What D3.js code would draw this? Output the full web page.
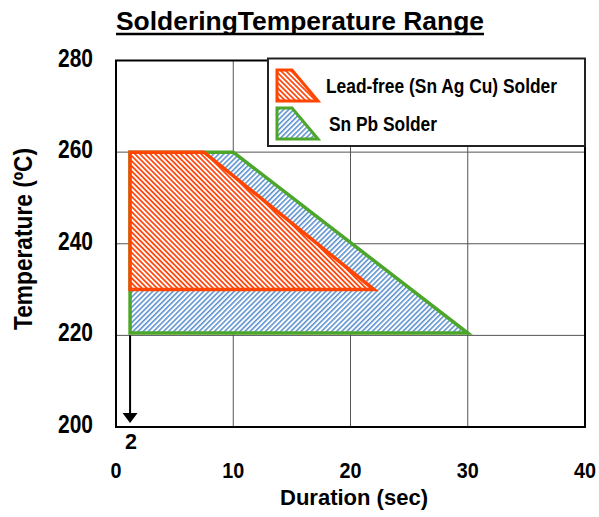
<!DOCTYPE html>
<html>
<head>
<meta charset="utf-8">
<script src="https://cdn.jsdelivr.net/npm/d3@7"></script>
<style>
body { margin: 0; background: #fff; }
text { font-family: "Liberation Sans", Arial, sans-serif; font-weight: bold; fill: #000; }
</style>
</head>
<body>
<svg id="chart" width="599" height="517"></svg>
<script>
// values
var xTicks = [0, 10, 20, 30, 40];
var yTicks = [200, 220, 240, 260, 280];
var snPbDur = [1.2, 1.2, 10, 30];
var snPbTemp = [220.5, 260, 260, 220.5];
var leadFreeDur = [1.2, 1.2, 7.5, 22];
var leadFreeTemp = [230, 260, 260, 230];
var minDur = 1.2;          // arrow down to the axis, labelled "2"
var minDurLabel = '2';
var legendNames = ['Lead-free (Sn Ag Cu) Solder', 'Sn Pb Solder'];

var svg = d3.select('#chart');
var x = d3.scaleLinear().domain([0, 40]).range([116, 585]);
var y = d3.scaleLinear().domain([200, 280]).range([427, 60.5]);

var defs = svg.append('defs');
function stripes(id, color, angle, period, w) {
	var p = defs.append('pattern')
		.attr('id', id)
		.attr('patternUnits', 'userSpaceOnUse')
		.attr('width', period)
		.attr('height', period)
		.attr('patternTransform', 'rotate(' + angle + ')');
	p.append('rect').attr('width', period).attr('height', period).attr('fill', '#fff');
	p.append('rect').attr('width', w).attr('height', period).attr('fill', color);
}
stripes('redHatch', '#ff4a12', -45, 3.6, 1.8);
stripes('blueHatch', '#5f93cf', 45, 3.6, 1.6);

// gridlines
svg.append('g').selectAll('line')
	.data(xTicks.slice(1, -1))
	.enter().append('line')
	.attr('x1', d => x(d)).attr('x2', d => x(d))
	.attr('y1', y(280)).attr('y2', y(200))
	.attr('stroke', '#555').attr('stroke-width', 1);
svg.append('g').selectAll('line')
	.data(yTicks.slice(1, -1))
	.enter().append('line')
	.attr('x1', x(0)).attr('x2', x(40))
	.attr('y1', d => y(d)).attr('y2', d => y(d))
	.attr('stroke', '#555').attr('stroke-width', 1);

// regions
var line = d3.line().x(d => x(d[0])).y(d => y(d[1]));
var snPb = d3.zip(snPbDur, snPbTemp);
var leadFree = d3.zip(leadFreeDur, leadFreeTemp);
svg.append('path')
	.attr('d', line(snPb) + 'Z')
	.attr('fill', 'url(#blueHatch)')
	.attr('stroke', '#4ca62a').attr('stroke-width', 3.5)
	.attr('stroke-linejoin', 'miter');
svg.append('path')
	.attr('d', line(leadFree) + 'Z')
	.attr('fill', 'url(#redHatch)')
	.attr('stroke', '#ff4500').attr('stroke-width', 3.5)
	.attr('stroke-linejoin', 'miter');

// frame
svg.append('rect')
	.attr('x', x(0)).attr('y', y(280))
	.attr('width', x(40) - x(0)).attr('height', y(200) - y(280))
	.attr('fill', 'none').attr('stroke', '#000').attr('stroke-width', 2);

// arrow to the minimum duration
var ax = x(minDur);
svg.append('line')
	.attr('x1', ax).attr('x2', ax)
	.attr('y1', y(220)).attr('y2', 414)
	.attr('stroke', '#000').attr('stroke-width', 2);
svg.append('path')
	.attr('d', 'M' + (ax - 7.5) + ',413L' + (ax + 7.5) + ',413L' + ax + ',423Z')
	.attr('fill', '#000');
svg.append('text')
	.attr('x', ax + 1).attr('y', 449)
	.attr('text-anchor', 'middle')
	.attr('textLength', 12)
	.attr('lengthAdjust', 'spacingAndGlyphs')
	.style('font-size', '22px')
	.text(minDurLabel);

// axis labels
svg.append('g').selectAll('text')
	.data(xTicks)
	.enter().append('text')
	.attr('x', d => x(d)).attr('y', 478)
	.attr('text-anchor', 'middle')
	.attr('textLength', d => String(d).length * 11)
	.attr('lengthAdjust', 'spacingAndGlyphs')
	.style('font-size', '22px')
	.text(d => d);
svg.append('g').selectAll('text')
	.data(yTicks)
	.enter().append('text')
	.attr('x', 93).attr('y', d => y(d) + 6)
	.attr('text-anchor', 'end')
	.attr('textLength', 35)
	.attr('lengthAdjust', 'spacingAndGlyphs')
	.style('font-size', '25px')
	.text(d => d);

svg.append('text')
	.attr('x', 354).attr('y', 505)
	.attr('text-anchor', 'middle')
	.attr('textLength', 148)
	.attr('lengthAdjust', 'spacingAndGlyphs')
	.style('font-size', '22px')
	.text('Duration (sec)');
svg.append('text')
	.attr('transform', 'translate(32,239) rotate(-90)')
	.attr('text-anchor', 'middle')
	.attr('textLength', 182)
	.attr('lengthAdjust', 'spacingAndGlyphs')
	.style('font-size', '25px')
	.text('Temperature (ºC)');

// title
svg.append('text')
	.attr('x', 300).attr('y', 30)
	.attr('text-anchor', 'middle')
	.attr('textLength', 368)
	.attr('lengthAdjust', 'spacingAndGlyphs')
	.style('font-size', '26px')
	.text('SolderingTemperature Range');
svg.append('line')
	.attr('x1', 116).attr('x2', 484)
	.attr('y1', 34).attr('y2', 34)
	.attr('stroke', '#000').attr('stroke-width', 2.5);

// legend
var lg = svg.append('g');
lg.append('rect')
	.attr('x', 268).attr('y', 58.5).attr('width', 317).attr('height', 87.5)
	.attr('fill', '#fff').attr('stroke', '#222').attr('stroke-width', 2);
var swatch = [
	{ top: 70, fill: 'url(#redHatch)', stroke: '#ff4500' },
	{ top: 108, fill: 'url(#blueHatch)', stroke: '#4ca62a' }
];
swatch.forEach(function (s, i) {
	lg.append('path')
		.attr('d', 'M277,' + s.top + 'L292,' + s.top + 'L318,' + (s.top + 31) + 'L277,' + (s.top + 31) + 'Z')
		.attr('fill', s.fill).attr('stroke', s.stroke).attr('stroke-width', 3);
	lg.append('text')
		.attr('x', i == 0 ? 326 : 329).attr('y', i == 0 ? 93 : 131)
		.attr('textLength', i == 0 ? 231 : 108)
		.attr('lengthAdjust', 'spacingAndGlyphs')
		.style('font-size', '21px')
		.text(legendNames[i]);
});
</script>
</body>
</html>
